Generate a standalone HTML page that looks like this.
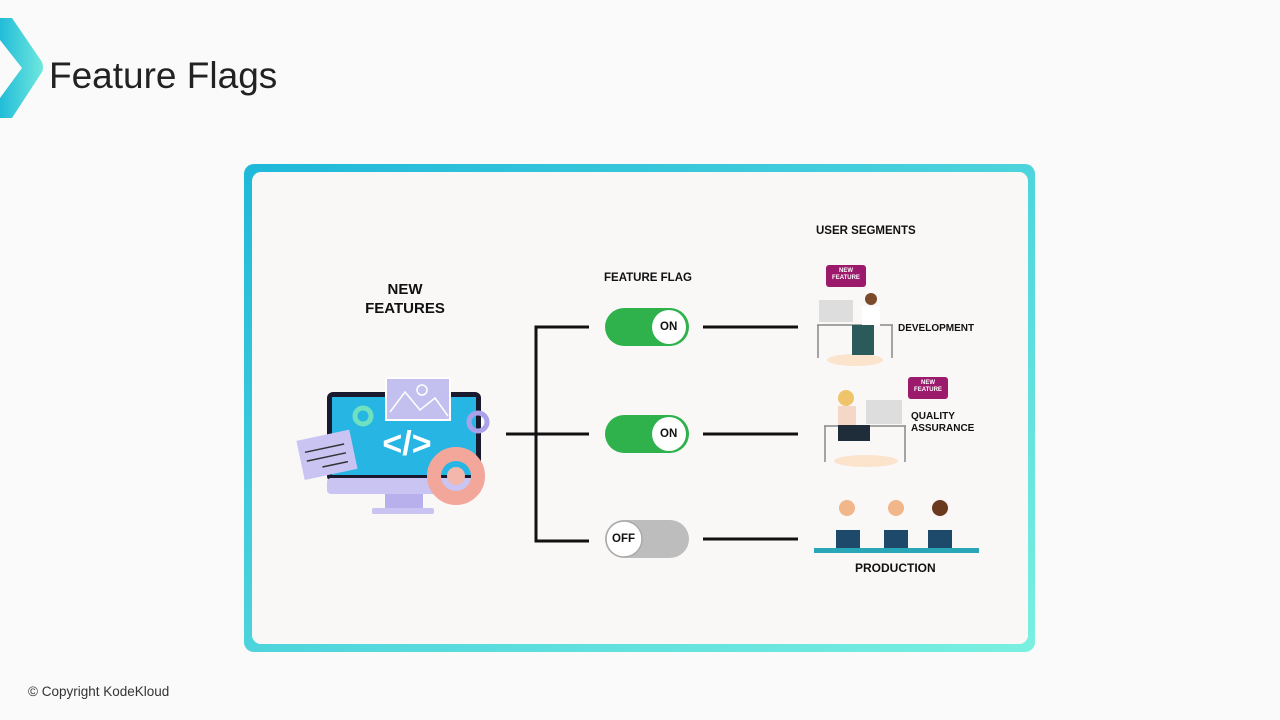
<!DOCTYPE html>
<html><head><meta charset="utf-8"><style>
body{margin:0;width:1280px;height:720px;background:#fafafa;position:relative;overflow:hidden;font-family:"Liberation Sans",sans-serif}
.t{position:absolute;font-weight:bold;color:#111}
</style></head><body>
<svg width="1280" height="720" style="position:absolute;left:0;top:0">
<defs>
<linearGradient id="g" x1="0" y1="0" x2="1" y2="1"><stop offset="0" stop-color="#1fb8d9"/><stop offset="1" stop-color="#7af0e0"/></linearGradient>
<linearGradient id="g2" x1="0" y1="0" x2="1" y2="0"><stop offset="0" stop-color="#22bcd8"/><stop offset="1" stop-color="#6fe8de"/></linearGradient>
</defs>
<path d="M0,18 L12,18 L42,62 Q44,68 42,72 L12,118 L0,118 L0,98 L22,68 L0,40 Z" fill="url(#g2)"/>
<rect x="244" y="164" width="791" height="488" rx="10" fill="url(#g)"/>
<rect x="252" y="172" width="776" height="472" rx="9" fill="#f9f8f7"/>
<g stroke="#111" stroke-width="3" fill="none">
<path d="M589,327 H536 V541 H589 M536,434 H589 M506,434 H536"/>
<path d="M703,327 H798 M703,434 H798 M703,539 H798"/>
</g>
<rect x="605" y="308" width="84" height="38" rx="19" fill="#2fb14c"/>
<circle cx="669" cy="327" r="17" fill="#fff"/>
<rect x="605" y="415" width="84" height="38" rx="19" fill="#2fb14c"/>
<circle cx="669" cy="434" r="17" fill="#fff"/>
<rect x="605" y="520" width="84" height="38" rx="19" fill="#bdbdbd"/>
<circle cx="624" cy="539" r="18" fill="#fff" stroke="#aaa" stroke-width="1.5"/>
<rect x="327" y="392" width="154" height="90" rx="6" fill="#1a1a2e"/>
<rect x="332" y="397" width="144" height="78" fill="#27b6e3"/>
<rect x="327" y="478" width="154" height="16" rx="4" fill="#c9c4f2"/>
<rect x="385" y="494" width="38" height="14" fill="#b7b0ec"/>
<rect x="372" y="508" width="62" height="6" rx="2" fill="#c9c4f2"/>
<rect x="386" y="378" width="64" height="42" fill="#c3c0f0" stroke="#fff" stroke-width="2"/>
<path d="M390,412 L405,392 L420,410 L435,398 L448,416" stroke="#fff" stroke-width="1.5" fill="none"/>
<circle cx="422" cy="390" r="5" fill="none" stroke="#fff" stroke-width="1.5"/>
<text x="407" y="455" font-size="34" font-weight="bold" fill="#fff" text-anchor="middle" font-family="Liberation Sans">&lt;/&gt;</text>
<circle cx="363" cy="416" r="8" fill="none" stroke="#6fe0c0" stroke-width="5"/>
<circle cx="478" cy="422" r="9" fill="none" stroke="#a9a2ea" stroke-width="5"/>
<circle cx="456" cy="476" r="22" fill="none" stroke="#f2a79a" stroke-width="14"/>
<circle cx="456" cy="476" r="9" fill="#f4b7ab"/>
<g transform="rotate(-12 326 455)"><rect x="300" y="435" width="54" height="40" fill="#c9c4f2"/>
<path d="M306,448 H346 M306,457 H346 M320,466 H346" stroke="#333" stroke-width="1.5"/></g>
<rect x="826" y="265" width="40" height="22" rx="3" fill="#9c1a6c"/>
<rect x="819" y="300" width="34" height="22" fill="#ddd"/>
<path d="M817,325 H893 M818,325 V358 M892,325 V358" stroke="#888" stroke-width="1.5"/>
<ellipse cx="855" cy="360" rx="28" ry="6" fill="#fbe3cc"/>
<circle cx="871" cy="299" r="6" fill="#7a4a2a"/>
<rect x="862" y="306" width="18" height="20" fill="#fff"/>
<rect x="852" y="325" width="22" height="30" fill="#2a5a5a"/>
<rect x="908" y="377" width="40" height="22" rx="3" fill="#9c1a6c"/>
<rect x="866" y="400" width="36" height="24" fill="#ddd"/>
<path d="M824,426 H906 M825,426 V462 M905,426 V462" stroke="#888" stroke-width="1.5"/>
<ellipse cx="866" cy="461" rx="32" ry="6" fill="#fbe3cc"/>
<circle cx="846" cy="398" r="8" fill="#f0c46a"/>
<rect x="838" y="406" width="18" height="20" fill="#f5d7c8"/>
<rect x="838" y="425" width="32" height="16" fill="#1f2c3a"/>
<rect x="814" y="548" width="165" height="5" fill="#2aa7b7"/>
<g fill="#1d4a6b"><rect x="836" y="530" width="24" height="18"/><rect x="884" y="530" width="24" height="18"/><rect x="928" y="530" width="24" height="18"/></g>
<circle cx="847" cy="508" r="8" fill="#f1b68a"/><circle cx="896" cy="508" r="8" fill="#f1b68a"/><circle cx="940" cy="508" r="8" fill="#6b3a1e"/>
</svg>
<div style="position:absolute;left:49px;top:55px;font-size:37px;color:#222">Feature Flags</div>
<div class="t" style="left:340px;top:280px;width:130px;text-align:center;font-size:15px;line-height:19px">NEW<br>FEATURES</div>
<div class="t" style="left:604px;top:272px;font-size:11.5px">FEATURE FLAG</div>
<div class="t" style="left:816px;top:225px;font-size:11.5px">USER SEGMENTS</div>
<div class="t" style="left:898px;top:323px;font-size:10px">DEVELOPMENT</div>
<div class="t" style="left:911px;top:411px;font-size:10px;line-height:12px">QUALITY<br>ASSURANCE</div>
<div class="t" style="left:855px;top:561px;font-size:12px">PRODUCTION</div>
<div class="t" style="left:660px;top:321px;font-size:11.5px">ON</div>
<div class="t" style="left:660px;top:428px;font-size:11.5px">ON</div>
<div class="t" style="left:612px;top:533px;font-size:11.5px">OFF</div>
<div style="position:absolute;left:830px;top:268px;width:32px;color:#fff;font-size:6px;font-weight:bold;text-align:center;line-height:7px">NEW<br>FEATURE</div>
<div style="position:absolute;left:912px;top:380px;width:32px;color:#fff;font-size:6px;font-weight:bold;text-align:center;line-height:7px">NEW<br>FEATURE</div>
<div style="position:absolute;left:28px;top:684px;font-size:13.5px;color:#333">© Copyright KodeKloud</div>
</body></html>
